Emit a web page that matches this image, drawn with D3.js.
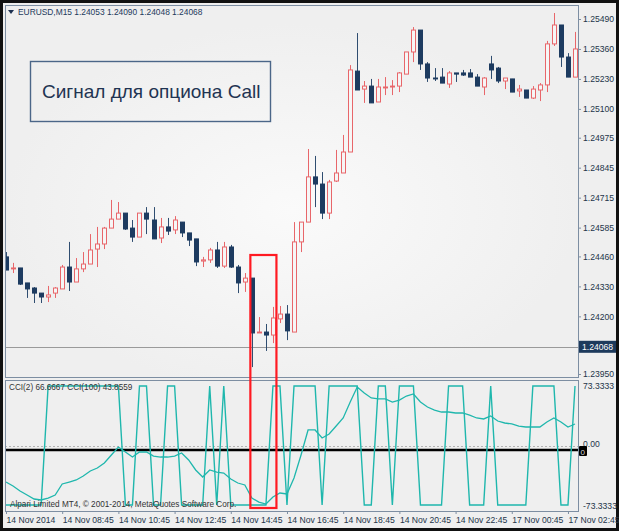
<!DOCTYPE html>
<html><head><meta charset="utf-8">
<script src="https://cdn.jsdelivr.net/npm/d3@7"></script>
<style>
body{margin:0;background:#eee}
svg{display:block}
text{font-family:"Liberation Sans",Arial,sans-serif}
</style>
</head><body><svg id="c" width="619" height="531"></svg>
<script>
// ---- data (EURUSD M15) ----
const opens=[1.24458,1.24406,1.24410,1.24345,1.24323,1.24301,1.24284,1.24301,1.24319,1.24414,
1.24349,1.24406,1.24427,1.24492,1.24514,1.24583,1.24622,1.24648,1.24583,1.24544,
1.24648,1.24618,1.24540,1.24588,1.24575,1.24609,1.24562,1.24536,1.24440,1.24445,
1.24488,1.24418,1.24501,1.24414,1.24349,1.24366,1.24128,1.24132,1.24119,1.24189,
1.24210,1.24132,1.24523,1.24609,1.24805,1.24774,1.24648,1.24787,1.24822,1.24913,
1.25264,1.25186,1.25199,1.25130,1.25191,1.25195,1.25199,1.25251,1.25347,1.25442,
1.25295,1.25234,1.25238,1.25208,1.25256,1.25256,1.25256,1.25238,1.25195,1.25295,
1.25277,1.25221,1.25230,1.25178,1.25182,1.25147,1.25182,1.25204,1.25382,1.25464,
1.25325,1.25238];
const highs=[1.24479,1.24432,1.24410,1.24345,1.24327,1.24301,1.24332,1.24327,1.24423,1.24523,
1.24453,1.24479,1.24557,1.24588,1.24588,1.24705,1.24696,1.24648,1.24618,1.24648,
1.24674,1.24674,1.24627,1.24627,1.24635,1.24609,1.24562,1.24536,1.24458,1.24497,
1.24523,1.24523,1.24510,1.24423,1.24388,1.24366,1.24197,1.24167,1.24241,1.24245,
1.24249,1.24609,1.24609,1.24926,1.24896,1.24826,1.24792,1.24922,1.24987,1.25290,
1.25429,1.25221,1.25230,1.25230,1.25238,1.25225,1.25260,1.25347,1.25455,1.25442,
1.25303,1.25277,1.25277,1.25264,1.25256,1.25269,1.25273,1.25251,1.25238,1.25330,
1.25282,1.25234,1.25230,1.25204,1.25182,1.25199,1.25212,1.25395,1.25516,1.25464,
1.25342,1.25434];
const lows=[1.24401,1.24388,1.24336,1.24280,1.24258,1.24258,1.24262,1.24280,1.24319,1.24310,
1.24349,1.24392,1.24427,1.24414,1.24492,1.24583,1.24622,1.24575,1.24523,1.24544,
1.24557,1.24536,1.24518,1.24553,1.24557,1.24544,1.24505,1.24418,1.24414,1.24432,
1.24410,1.24410,1.24410,1.24301,1.24306,1.23980,1.24128,1.24050,1.24084,1.24171,
1.24097,1.24132,1.24479,1.24609,1.24674,1.24622,1.24622,1.24783,1.24822,1.24913,
1.25182,1.25126,1.25126,1.25130,1.25160,1.25160,1.25173,1.25251,1.25303,1.25269,
1.25217,1.25221,1.25212,1.25191,1.25217,1.25243,1.25238,1.25199,1.25160,1.25230,
1.25212,1.25186,1.25173,1.25152,1.25147,1.25143,1.25134,1.25173,1.25373,1.25282,
1.25238,1.25238];
const closes=[1.24401,1.24410,1.24340,1.24319,1.24301,1.24284,1.24293,1.24323,1.24414,1.24349,
1.24406,1.24427,1.24488,1.24514,1.24583,1.24622,1.24648,1.24579,1.24544,1.24648,
1.24622,1.24536,1.24588,1.24570,1.24618,1.24562,1.24531,1.24436,1.24445,1.24488,
1.24418,1.24501,1.24414,1.24345,1.24366,1.24128,1.24132,1.24119,1.24193,1.24210,
1.24137,1.24523,1.24609,1.24805,1.24774,1.24648,1.24783,1.24822,1.24913,1.25269,
1.25182,1.25199,1.25126,1.25195,1.25195,1.25199,1.25256,1.25347,1.25442,1.25295,
1.25234,1.25230,1.25212,1.25256,1.25251,1.25247,1.25238,1.25199,1.25234,1.25269,
1.25221,1.25234,1.25173,1.25186,1.25147,1.25186,1.25204,1.25382,1.25464,1.25325,
1.25238,1.25360];
const cci2=[-66.67,-66.67,-66.67,-66.67,-66.67,-66.67,66.67,66.67,66.67,66.67,
66.67,66.67,66.67,66.67,66.67,66.67,66.67,-66.67,-66.67,66.67,
66.67,-66.67,-66.67,66.67,66.67,-66.67,-66.67,-66.67,-66.67,66.67,
-66.67,66.67,-66.67,-66.67,-66.67,-66.67,-66.67,-66.67,66.67,66.67,
-66.67,66.67,66.67,66.67,66.67,-66.67,66.67,66.67,66.67,66.67,
66.67,-66.67,-66.67,66.67,66.67,-66.67,66.67,66.67,66.67,-66.67,
-66.67,-66.67,-66.67,66.67,66.67,66.67,-66.67,-66.67,-66.67,66.67,
-66.67,-66.67,-66.67,-66.67,-66.67,66.67,66.67,66.67,66.67,-66.67,
-66.67,66.67];
const cci100=[-40.9,-45.3,-50.9,-55.4,-59.9,-61.0,-58.8,-55.4,-43.1,-40.9,
-38.6,-34.1,-28.5,-25.2,-19.6,-10.6,-1.7,-7.3,-12.9,-7.3,
-7.3,-11.8,-12.9,-12.9,-11.8,-8.4,-16.2,-27.4,-35.3,-27.4,
-29.7,-30.8,-37.5,-42.0,-44.2,-58.8,-63.3,-65.5,-57.7,-53.2,
-54.3,-36.4,-10.6,17.4,17.4,8.4,12.9,21.8,30.8,48.7,
65.5,58.8,53.2,52.1,52.1,48.7,50.9,55.4,57.7,48.7,
43.1,39.7,37.5,37.5,36.4,36.4,34.1,30.8,29.7,33.0,
27.4,25.2,24.1,21.8,20.7,20.7,20.7,26.3,30.8,26.3,
20.7,24.1];
const priceTicks=[1.25490,1.25360,1.25230,1.25100,1.24975,1.24845,1.24715,1.24585,1.24460,1.24330,1.24200,1.23950];
const priceDomain=[1.23950,1.25490];
const currentPrice=1.24068;
const cciDomain=[-73.3333,73.3333];
const cciLevel=-5;
const timeTicks=[0,8,16,24,32,40,48,56,64,72,80];
const timeLabels=["14 Nov 2014","14 Nov 08:45","14 Nov 10:45","14 Nov 12:45","14 Nov 14:45","14 Nov 16:45","14 Nov 18:45","14 Nov 20:45","14 Nov 22:45","17 Nov 00:45","17 Nov 02:45"];
const headerText="EURUSD,M15  1.24053 1.24090 1.24048 1.24068";
const cciHeader="CCI(2) 66.6667  CCI(100) 43.8559";
const copyright="Alpari Limited MT4, \u00a9 2001-2014, MetaQuotes Software Corp.";
const signalText="Сигнал для опциона Call";
const signalRange=[35,38]; // candle indices in the red box

// ---- layout ----
const svg=d3.select("#c");
const L=5,R=578,T=5,MB=377,CT=380,CB=511;
const bg="#efefef", txt="#24354a", border="#7d8ea2";
const bull="#e8666a", bear="#1d3b60", bearWick="#2f4d70";

svg.append("rect").attr("width",619).attr("height",531).attr("fill","#111");
svg.append("rect").attr("x",3).attr("y",3).attr("width",613).attr("height",525).attr("fill",bg);

const x=d3.scaleLinear().domain([0,opens.length-1]).range([6,575]);
const y=d3.scaleLinear().domain(priceDomain).range([374,19]);
const yc=d3.scaleLinear().domain(cciDomain).range([CB,CT]);

svg.append("defs").html(`<clipPath id="cm"><rect x="${L+1}" y="${T+1}" width="${R-L-1}" height="${MB-T-1}"/></clipPath>
<clipPath id="cc"><rect x="${L+1}" y="${CT+1}" width="${R-L-1}" height="${CB-CT-1}"/></clipPath>
<radialGradient id="glow" cx="0.5" cy="0.55" r="0.5"><stop offset="0" stop-color="#fafafa"/><stop offset="1" stop-color="${bg}"/></radialGradient>`);

svg.append("rect").attr("x",L).attr("y",T).attr("width",R-L).attr("height",MB-T).attr("fill","url(#glow)");

// current price line
svg.append("line").attr("x1",L).attr("x2",R).attr("y1",Math.round(y(currentPrice))+0.5).attr("y2",Math.round(y(currentPrice))+0.5)
  .attr("stroke","#9a9a9a").attr("stroke-width",1);

// candles
const idx=d3.range(opens.length);
const gC=svg.append("g").attr("clip-path","url(#cm)");
gC.selectAll("line.w").data(idx).join("line")
  .attr("x1",i=>Math.round(x(i))+0.5).attr("x2",i=>Math.round(x(i))+0.5)
  .attr("y1",i=>y(highs[i])).attr("y2",i=>y(lows[i]))
  .attr("stroke",i=>closes[i]>=opens[i]?bull:bearWick).attr("stroke-width",1);
gC.selectAll("rect.b").data(idx).join("rect")
  .attr("x",i=>Math.round(x(i))-2+0.5)
  .attr("y",i=>Math.min(y(opens[i]),y(closes[i])))
  .attr("width",4)
  .attr("height",i=>Math.max(0.5,Math.abs(y(opens[i])-y(closes[i]))))
  .attr("fill",i=>closes[i]>=opens[i]?"#f6f6f6":bear)
  .attr("stroke",i=>closes[i]>=opens[i]?bull:bear).attr("stroke-width",1);

// price axis
const ay=svg.append("g").attr("transform",`translate(${R},0)`)
  .call(d3.axisRight(y).tickValues(priceTicks).tickFormat(d3.format(".5f")).tickSize(3).tickPadding(2));
ay.select(".domain").remove();
ay.selectAll("line").attr("stroke",border);
ay.selectAll("text").attr("fill",txt).attr("font-size","8.6px");

// current price tag
const cy=y(currentPrice);
svg.append("rect").attr("x",R+1).attr("y",cy-6).attr("width",37).attr("height",12).attr("fill","#1d3a5c");
svg.append("text").attr("x",R+4).attr("y",cy+3.2).attr("fill","#fff").attr("font-size","8.6px").text(d3.format(".5f")(currentPrice));

// CCI panel
svg.append("line").attr("x1",L).attr("x2",R).attr("y1",Math.round(yc(0))+0.5).attr("y2",Math.round(yc(0))+0.5)
  .attr("stroke","#b4b4b4").attr("stroke-dasharray","2,2");
const gI=svg.append("g").attr("clip-path","url(#cc)");
gI.append("line").attr("x1",L).attr("x2",R).attr("y1",yc(cciLevel)).attr("y2",yc(cciLevel)).attr("stroke","#000").attr("stroke-width",2.5);
const lineGen=d3.line().x((d,i)=>x(i)).y(d=>yc(d));
gI.append("path").datum(cci2).attr("d",lineGen).attr("fill","none").attr("stroke","#1fb7ad").attr("stroke-width",1.4);
gI.append("path").datum(cci100).attr("d",lineGen).attr("fill","none").attr("stroke","#1fb7ad").attr("stroke-width",1.3);

// CCI axis labels
const cciLab=[{v:cciDomain[1],t:"73.3333",dy:9},{v:0,t:"0.00",dy:1},{v:cciDomain[0],t:"-73.3333",dy:-2}];
svg.selectAll("text.cl").data(cciLab).join("text").attr("x",R+5).attr("y",d=>yc(d.v)+d.dy)
  .attr("fill",txt).attr("font-size","8.6px").text(d=>d.t);
svg.append("rect").attr("x",R+1).attr("y",yc(cciLevel)-4).attr("width",8).attr("height",10).attr("rx",1).attr("fill","#000");
svg.append("text").attr("x",R+2.5).attr("y",yc(cciLevel)+5).attr("fill","#ddd").attr("font-size","8px").text("0");

// time axis
const ax=svg.append("g").attr("transform",`translate(0,${CB})`)
  .call(d3.axisBottom(x).tickValues(timeTicks).tickFormat((d,i)=>timeLabels[i]).tickSize(3).tickPadding(3));
ax.select(".domain").remove();
ax.selectAll("line").attr("stroke",border);
ax.selectAll("text").attr("text-anchor","start").attr("dx","0").attr("fill",txt).attr("font-size","8.6px");

// panel borders
svg.append("rect").attr("x",L+0.5).attr("y",T+0.5).attr("width",R-L).attr("height",MB-T).attr("fill","none").attr("stroke",border);
svg.append("rect").attr("x",L+0.5).attr("y",CT+0.5).attr("width",R-L).attr("height",CB-CT).attr("fill","none").attr("stroke",border);

// header texts
svg.append("path").attr("d","M8,10 L14,10 L11,14 Z").attr("fill","#1d3050");
svg.append("text").attr("x",18).attr("y",15).attr("fill","#1d3a5c").attr("font-size","8.4px").text(headerText);
svg.append("text").attr("x",9).attr("y",390).attr("fill","#333").attr("font-size","8.2px").text(cciHeader);
svg.append("text").attr("x",10).attr("y",507).attr("fill","#333").attr("font-size","8.2px").text(copyright);

// signal box
svg.append("rect").attr("x",30.5).attr("y",61.5).attr("width",240).attr("height",60).attr("fill","none").attr("stroke","#4b6688").attr("stroke-width",1.4);
svg.append("text").attr("x",42).attr("y",98).attr("fill","#1f3452").attr("font-size","19px").text(signalText);

// red highlight box over candles
const bx0=x(signalRange[0])-1.5, bx1=x(signalRange[1])+3.5;
svg.append("rect").attr("x",bx0).attr("y",255).attr("width",bx1-bx0).attr("height",253)
  .attr("fill","none").attr("stroke","#ff1a22").attr("stroke-width",2.2);
</script></body></html>
